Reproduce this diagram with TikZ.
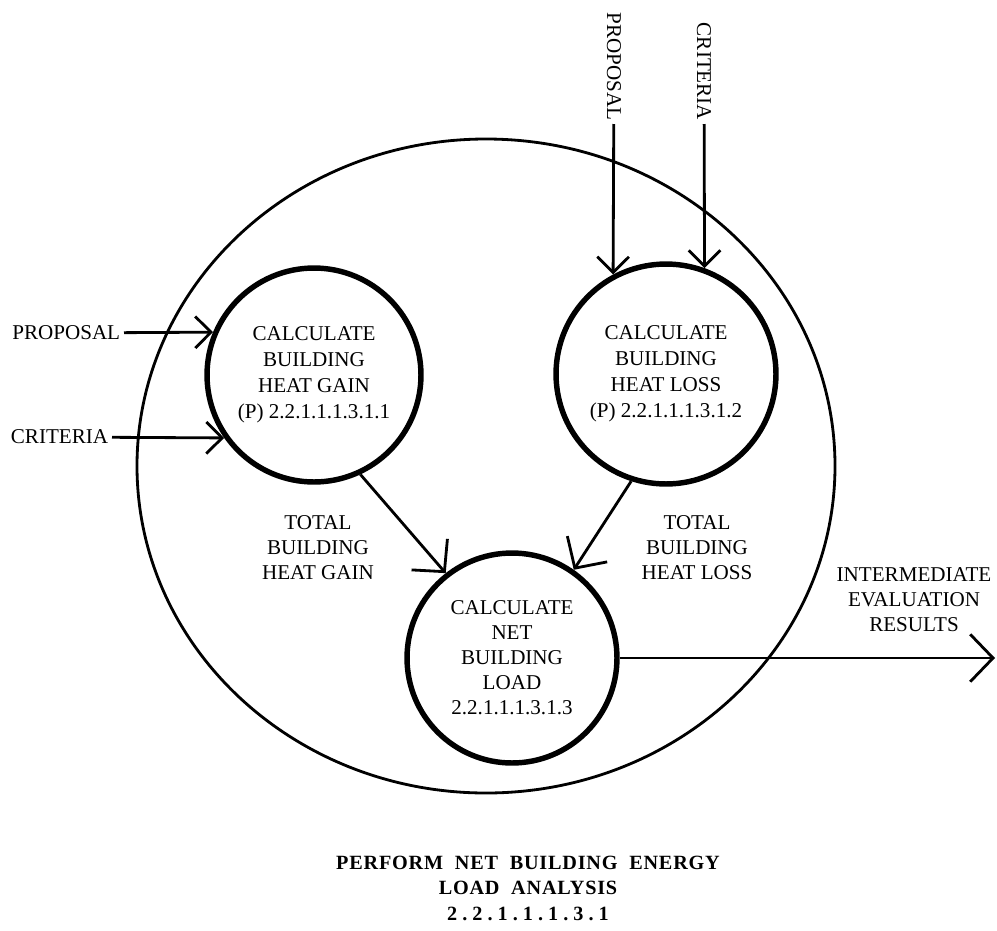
\documentclass[tikz,border=0pt]{standalone}
\usepackage{fontspec}
\setmainfont{Liberation Serif}
\usetikzlibrary{arrows.meta}

\begin{document}
\begin{tikzpicture}[x=0.02cm, y=-0.02cm,
		proc/.style={circle, draw, line width=3.1pt, minimum size=4.28cm, inner sep=0pt, align=center, font=\fontsize{12}{14.8}\selectfont},
		lbl/.style={inner sep=2pt, align=center, font=\fontsize{12}{14.2}\selectfont},
		flow/.style={line width=1.6pt, -{Straight Barb[length=9pt,width=18pt]}},
		bigflow/.style={line width=1.6pt, -{Straight Barb[length=13pt,width=27pt]}}]
				\useasboundingbox (0,0) rectangle (997,930);
				\draw[line width=1.6pt] (486,466) ellipse [x radius=349, y radius=327];
				\node[proc] (gain) at (314,375) {CALCULATE\\BUILDING\\HEAT GAIN\\(P) 2.2.1.1.1.3.1.1};
				\node[proc, minimum size=4.4cm] (loss) at (666,374) {CALCULATE\\BUILDING\\HEAT LOSS\\(P) 2.2.1.1.1.3.1.2};
				\node[proc, minimum size=4.2cm, font=\fontsize{12}{14.2}\selectfont] (net) at (512,658) {CALCULATE\\NET\\BUILDING\\LOAD\\2.2.1.1.1.3.1.3};
				\node[lbl, anchor=east] (gainprop) at (124,333) {PROPOSAL};
				\node[lbl, anchor=east] (gaincrit) at (112,437) {CRITERIA};
				\node[lbl, rotate=-90, anchor=east] (lossprop) at (614,124) {PROPOSAL};
				\node[lbl, rotate=-90, anchor=east] (losscrit) at (704,124) {CRITERIA};
				\node[lbl] (gaintot) at (318,548) {TOTAL\\BUILDING\\HEAT GAIN};
				\node[lbl] (losstot) at (697,548) {TOTAL\\BUILDING\\HEAT LOSS};
				\node[lbl] (result) at (914,600) {INTERMEDIATE\\EVALUATION\\RESULTS};
				\coordinate (out) at (995,658);
				\draw[flow] (gainprop) -- (gain.157);
				\draw[flow] (gaincrit) -- (gain.215);
				\draw[flow] (lossprop) -- (loss.118);
				\draw[flow] (losscrit) -- (loss.70);
				\draw[bigflow] (gain.295) -- (net.128);
				\draw[bigflow] (loss.252) -- (net.55);
				\draw[bigflow] (net) -- (out);
				\node[align=center, font=\fontsize{11.5}{14.5}\selectfont\bfseries\addfontfeature{LetterSpace=4}] (title) at (528,888) {PERFORM\ \ NET\ \ BUILDING\ \ ENERGY\\LOAD\ \ ANALYSIS\\{\addfontfeature{LetterSpace=25}2.2.1.1.1.3.1}};
			\end{tikzpicture}
\end{document}
